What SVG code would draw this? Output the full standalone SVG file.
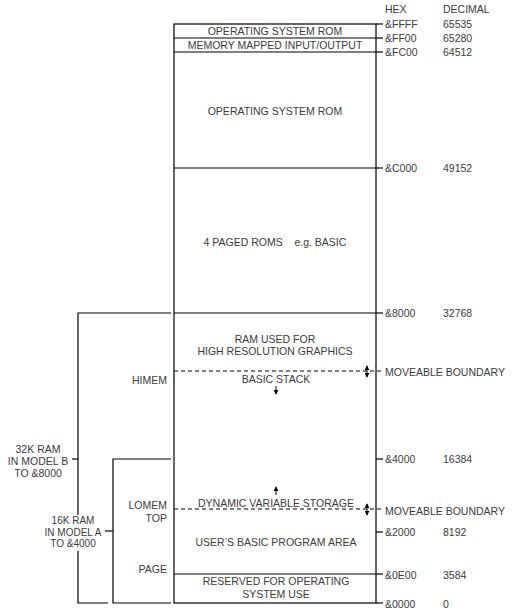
<svg xmlns="http://www.w3.org/2000/svg" width="517" height="615" viewBox="0 0 517 615">
<style>
text{font-family:"Liberation Sans",Arial,sans-serif;font-size:10.5px;fill:#3a3a3a}
.c{text-anchor:middle}
.r{text-anchor:end}
.s{font-size:10px}
.ln{stroke:#000;stroke-width:1.2;fill:none}
.dash{stroke:#000;stroke-width:1.2;fill:none;stroke-dasharray:4 3}
.arr{stroke:#000;stroke-width:1;fill:none}
</style>
<defs>
<marker id="ah" viewBox="0 0 6 6" refX="5" refY="3" markerWidth="5" markerHeight="5" orient="auto-start-reverse">
<path d="M0,0 L6,3 L0,6 z" fill="#000"/>
</marker>
</defs>
<rect width="517" height="615" fill="#fff"/>

<g id="headers">
<text x="385" y="13">HEX</text>
<text x="443" y="13">DECIMAL</text>
</g>

<g id="memory-map">
<rect class="ln" x="174" y="24" width="202" height="579"/>
<line class="ln" x1="174" y1="38" x2="376" y2="38"/>
<line class="ln" x1="174" y1="52" x2="376" y2="52"/>
<line class="ln" x1="174" y1="168" x2="376" y2="168"/>
<line class="ln" x1="174" y1="313" x2="376" y2="313"/>
<line class="ln" x1="174" y1="574" x2="376" y2="574"/>
</g>

<g id="os-rom-top"><text class="c" x="275" y="35">OPERATING SYSTEM ROM</text></g>
<g id="mmio"><text class="c" x="275" y="49">MEMORY MAPPED INPUT/OUTPUT</text></g>
<g id="os-rom"><text class="c" x="275" y="115">OPERATING SYSTEM ROM</text></g>
<g id="paged-roms"><text class="c" x="275" y="246" xml:space="preserve">4 PAGED ROMS    e.g. BASIC</text></g>
<g id="hires-ram"><text class="c" x="275" y="343">RAM USED FOR</text><text class="c" x="275" y="355">HIGH RESOLUTION GRAPHICS</text></g>
<g id="basic-stack"><text class="c" x="276" y="383">BASIC STACK</text></g>
<g id="dynamic-vars"><text class="c" x="276" y="507">DYNAMIC VARIABLE STORAGE</text></g>
<g id="program-area"><text class="c" x="276" y="546">USER’S BASIC PROGRAM AREA</text></g>
<g id="reserved-os"><text class="c" x="276" y="585">RESERVED FOR OPERATING</text><text class="c" x="276" y="598">SYSTEM USE</text></g>

<g id="pointers">
<text class="r" x="167" y="384">HIMEM</text>
<text class="r" x="167" y="509">LOMEM</text>
<text class="r" x="167" y="522">TOP</text>
<text class="r" x="167" y="573">PAGE</text>
</g>

<g id="address-labels">
<text x="385" y="28">&amp;FFFF</text><text x="443" y="28">65535</text>
<text x="385" y="42">&amp;FF00</text><text x="443" y="42">65280</text>
<text x="385" y="56">&amp;FC00</text><text x="443" y="56">64512</text>
<text x="385" y="172">&amp;C000</text><text x="443" y="172">49152</text>
<text x="385" y="317">&amp;8000</text><text x="443" y="317">32768</text>
<text x="385" y="376">MOVEABLE BOUNDARY</text>
<text x="385" y="463">&amp;4000</text><text x="443" y="463">16384</text>
<text x="385" y="515">MOVEABLE BOUNDARY</text>
<text x="385" y="536">&amp;2000</text><text x="443" y="536">8192</text>
<text x="385" y="579">&amp;0E00</text><text x="443" y="579">3584</text>
<text x="385" y="608">&amp;0000</text><text x="443" y="608">0</text>
</g>

<g id="ram-32k">
<text class="c" x="38" y="453">32K RAM</text>
<text class="c" x="38" y="465">IN MODEL B</text>
<text class="c" x="38" y="477">TO &amp;8000</text>
</g>
<g id="ram-16k">
<text class="c s" x="73" y="524">16K RAM</text>
<text class="c s" x="73" y="535.5">IN MODEL A</text>
<text class="c s" x="73" y="547">TO &amp;4000</text>
</g>

<g id="connectors">
<line class="ln" x1="376" y1="24" x2="383" y2="24"/>
<line class="ln" x1="376" y1="38" x2="383" y2="38"/>
<line class="ln" x1="376" y1="52" x2="383" y2="52"/>
<line class="ln" x1="376" y1="168" x2="383" y2="168"/>
<line class="ln" x1="376" y1="313" x2="383" y2="313"/>
<line class="ln" x1="376" y1="459" x2="383" y2="459"/>
<line class="ln" x1="376" y1="532" x2="383" y2="532"/>
<line class="ln" x1="376" y1="574" x2="383" y2="574"/>
<line class="ln" x1="376" y1="603" x2="383" y2="603"/>
<line class="dash" x1="174" y1="371" x2="383" y2="371"/>
<line class="dash" x1="174" y1="509" x2="383" y2="509"/>
<line class="arr" x1="367" y1="366" x2="367" y2="377" marker-start="url(#ah)" marker-end="url(#ah)"/>
<line class="arr" x1="367" y1="504" x2="367" y2="515" marker-start="url(#ah)" marker-end="url(#ah)"/>
<line class="arr" x1="276" y1="386" x2="276" y2="394" marker-end="url(#ah)"/>
<line class="arr" x1="276" y1="495" x2="276" y2="487" marker-end="url(#ah)"/>
<path class="ln" d="M171,313 H78 V515 M78,551 V603 H108"/>
<line class="ln" x1="72" y1="459" x2="78" y2="459"/>
<path class="ln" d="M171,459 H113 V603 H171"/>
<line class="ln" x1="105" y1="531" x2="113" y2="531"/>
</g>
</svg>
